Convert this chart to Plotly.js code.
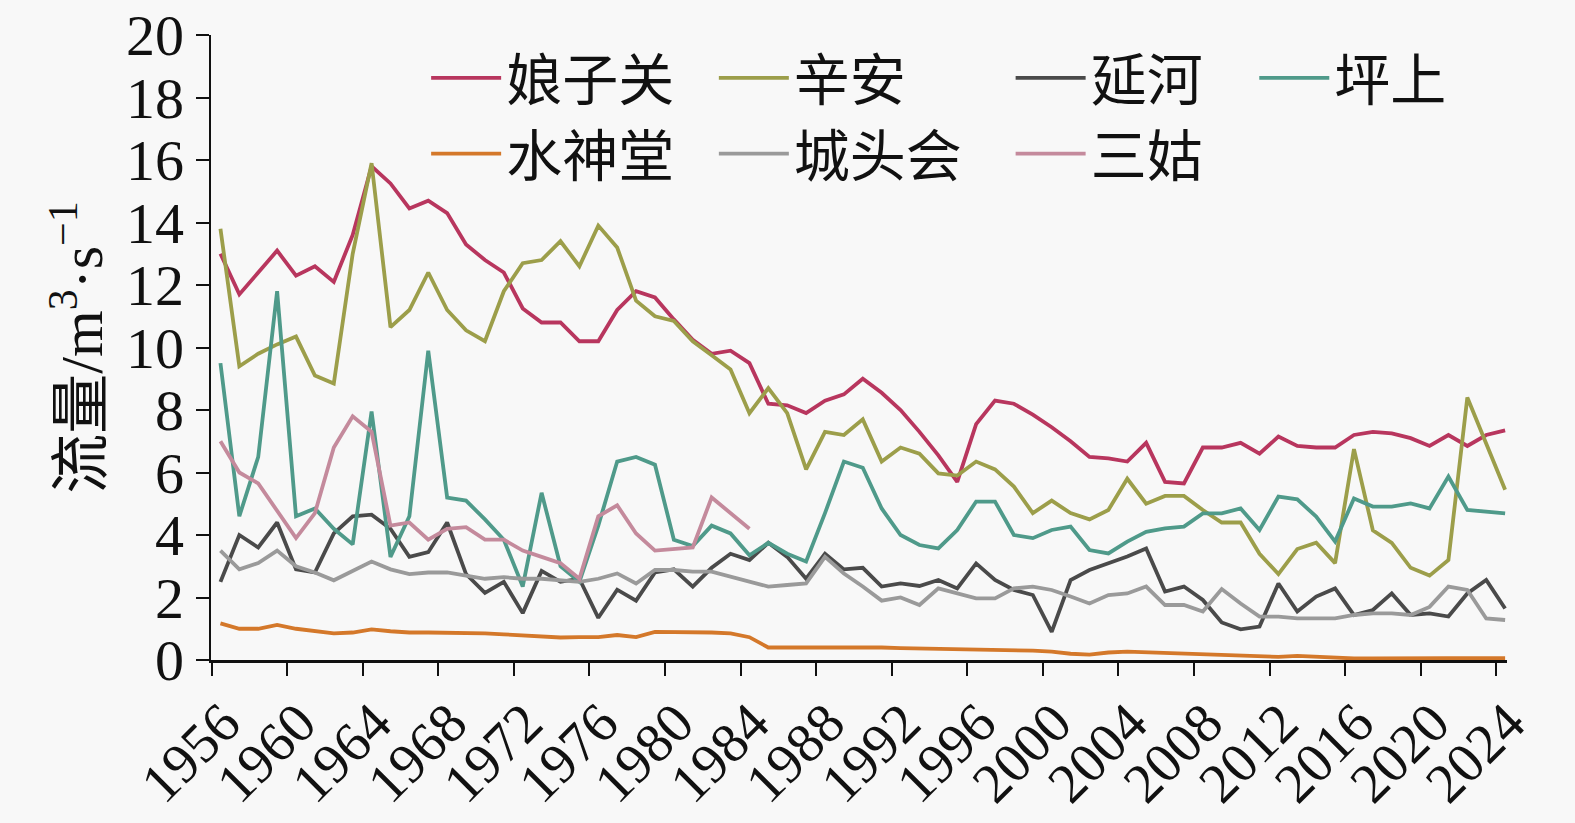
<!DOCTYPE html>
<html>
<head>
<meta charset="utf-8">
<script src="https://cdn.plot.ly/plotly-3.0.1.min.js"></script>
<style>
  body { margin: 0; background: #f8f8f8; }
  #chart { width: 1575px; height: 823px; }
</style>
</head>
<body>
<div id="chart"></div>
<script>
// years 1956-2024
const years = Array.from({ length: 69 }, (_, i) => 1956 + i);
const tickYears = [1956, 1960, 1964, 1968, 1972, 1976, 1980, 1984, 1988, 1992, 1996, 2000, 2004, 2008, 2012, 2016, 2020, 2024];

// 流量 m3/s
const niangziguan = [13.0, 11.7, 12.4, 13.1, 12.3, 12.6, 12.1, 13.6, 15.8, 15.25, 14.45, 14.7, 14.3, 13.3, 12.8, 12.4, 11.25, 10.8, 10.8, 10.2,
  10.2, 11.2, 11.8, 11.6, 10.9, 10.25, 9.8, 9.9, 9.5, 8.2, 8.15, 7.9, 8.3, 8.5, 9.0, 8.55, 8.0, 7.3, 6.55, 5.7,
  7.55, 8.3, 8.2, 7.85, 7.45, 7.0, 6.5, 6.45, 6.35, 6.95, 5.7, 5.65, 6.8, 6.8, 6.95, 6.6, 7.15, 6.85, 6.8, 6.8,
  7.2, 7.3, 7.25, 7.1, 6.85, 7.2, 6.85, 7.2, 7.35];
const xinan = [13.8, 9.4, 9.8, 10.1, 10.35, 9.1, 8.85, 13.0, 15.9, 10.65, 11.2, 12.4, 11.2, 10.55, 10.2, 11.8, 12.7, 12.8, 13.4, 12.6,
  13.9, 13.2, 11.5, 11.0, 10.85, 10.2, 9.75, 9.3, 7.9, 8.7, 7.9, 6.1, 7.3, 7.2, 7.7, 6.35, 6.8, 6.6, 5.97, 5.9,
  6.35, 6.1, 5.55, 4.7, 5.1, 4.7, 4.5, 4.8, 5.8, 5.0, 5.25, 5.25, 4.8, 4.4, 4.4, 3.4, 2.75, 3.55, 3.75, 3.1,
  6.75, 4.15, 3.75, 2.95, 2.7, 3.2, 8.4, 6.9, 5.45];
const yanhe = [2.5, 4.0, 3.6, 4.4, 2.9, 2.8, 4.05, 4.6, 4.65, 4.2, 3.3, 3.45, 4.4, 2.75, 2.15, 2.5, 1.5, 2.85, 2.5, 2.6,
  1.35, 2.25, 1.9, 2.8, 2.9, 2.35, 2.95, 3.4, 3.2, 3.75, 3.3, 2.6, 3.4, 2.9, 2.95, 2.35, 2.45, 2.37, 2.56, 2.29,
  3.09, 2.56, 2.24, 2.08, 0.9, 2.56, 2.88, 3.09, 3.31, 3.57, 2.19, 2.35, 1.92, 1.2, 0.98, 1.07, 2.45, 1.55, 2.03, 2.29,
  1.44, 1.6, 2.13, 1.44, 1.49, 1.39, 2.13, 2.56, 1.65];
const pingshang = [9.5, 4.6, 6.5, 11.8, 4.6, 4.85, 4.2, 3.7, 7.95, 3.3, 4.6, 9.9, 5.2, 5.1, 4.5, 3.85, 2.35, 5.35, 3.0, 2.5,
  4.3, 6.35, 6.5, 6.25, 3.85, 3.65, 4.3, 4.05, 3.35, 3.75, 3.4, 3.15, 4.7, 6.35, 6.15, 4.85, 4.0, 3.68, 3.57, 4.16,
  5.07, 5.07, 4.0, 3.9, 4.16, 4.27, 3.52, 3.41, 3.79, 4.1, 4.21, 4.27, 4.69, 4.69, 4.85, 4.16, 5.23, 5.14, 4.59, 3.79,
  5.17, 4.91, 4.91, 5.01, 4.85, 5.87, 4.8, 4.75, 4.69];
const shuishentang = [1.17, 1.0, 1.0, 1.12, 1.0, 0.92, 0.85, 0.88, 0.98, 0.92, 0.88, 0.88, 0.88, 0.85, 0.85, 0.82, 0.78, 0.74, 0.72, 0.73,
  0.73, 0.8, 0.73, 0.9, 0.9, 0.9, 0.88, 0.85, 0.73, 0.4, 0.4, 0.42, 0.42, 0.42, 0.42, 0.4, 0.38, 0.37, 0.36, 0.35,
  0.36, 0.34, 0.32, 0.3, 0.27, 0.2, 0.17, 0.24, 0.27, 0.25, 0.22, 0.2, 0.17, 0.16, 0.15, 0.13, 0.1, 0.13, 0.1, 0.06,
  0.05, 0.05, 0.06, 0.06, 0.06, 0.06, 0.06, 0.06, 0.06];
const chengtouhui = [3.5, 2.9, 3.1, 3.5, 3.0, 2.8, 2.55, 2.85, 3.15, 2.9, 2.75, 2.8, 2.8, 2.7, 2.6, 2.65, 2.6, 2.6, 2.55, 2.5,
  2.6, 2.77, 2.45, 2.88, 2.88, 2.83, 2.83, 2.67, 2.5, 2.35, 2.4, 2.45, 3.3, 2.77, 2.35, 1.9, 2.0, 1.76, 2.29, 2.13,
  1.97, 1.97, 2.29, 2.35, 2.24, 2.03, 1.81, 2.08, 2.13, 2.35, 1.76, 1.76, 1.55, 2.27, 1.81, 1.39, 1.39, 1.33, 1.33, 1.33,
  1.44, 1.49, 1.49, 1.44, 1.7, 2.35, 2.24, 1.33, 1.28];
// 三姑 ends in 1984
const sangu = [7.0, 6.0, 5.65, 4.8, 3.9, 4.7, 6.8, 7.8, 7.3, 4.3, 4.4, 3.85, 4.2, 4.25, 3.85, 3.85, 3.5, 3.3, 3.1, 2.6,
  4.6, 4.95, 4.05, 3.5, 3.55, 3.6, 5.2, 4.7, 4.2];

const zh = "Liberation Serif, Noto Sans CJK SC, serif";

// one column of the legend per legend object, so the 2-row grid stays put
function serie(nombre, valores, color, leyenda) {
  return {
    x: years.slice(0, valores.length),
    y: valores,
    name: nombre,
    type: "scatter",
    mode: "lines",
    line: { color: color, width: 3.8 },
    legend: leyenda
  };
}

const trazas = [
  serie("娘子关", niangziguan, "#b8365e", "legend"),
  serie("辛安", xinan, "#9c9e4a", "legend2"),
  serie("延河", yanhe, "#4a4a4a", "legend3"),
  serie("坪上", pingshang, "#4f9a8a", "legend4"),
  serie("水神堂", shuishentang, "#d4782a", "legend"),
  serie("城头会", chengtouhui, "#9a9a9a", "legend2"),
  serie("三姑", sangu, "#c48a9c", "legend3")
];

function columna(x) {
  return {
    orientation: "v",
    xanchor: "left",
    yanchor: "top",
    x: x,
    y: 1.0,
    bgcolor: "rgba(0,0,0,0)",
    font: { family: zh, size: 56, color: "#111" },
    itemwidth: 70,
    tracegroupgap: 0
  };
}

const layout = {
  width: 1575,
  height: 823,
  margin: { l: 211, r: 68, t: 35, b: 163 },
  paper_bgcolor: "#f8f8f8",
  plot_bgcolor: "#f8f8f8",
  font: { family: zh, color: "#111" },
  showlegend: true,
  legend: columna(0.166),
  legend2: columna(0.388),
  legend3: columna(0.617),
  legend4: columna(0.805),
  xaxis: {
    range: [1955.5, 2024.1],
    tickmode: "array",
    tickvals: tickYears.map(a => a - 0.47),
    ticktext: tickYears.map(String),
    tickangle: -45,
    ticklabelshift: 12,
    ticklabelstandoff: -8,
    ticks: "outside",
    ticklen: 13,
    tickwidth: 2,
    tickcolor: "#111",
    showline: true,
    linecolor: "#111",
    linewidth: 2.5,
    showgrid: false,
    zeroline: false,
    tickfont: { family: "Liberation Serif, serif", size: 56, color: "#111" }
  },
  yaxis: {
    range: [0, 20],
    dtick: 2,
    ticks: "outside",
    ticklen: 13,
    tickwidth: 2,
    tickcolor: "#111",
    showline: true,
    linecolor: "#111",
    linewidth: 2.5,
    showgrid: false,
    zeroline: false,
    tickfont: { family: "Liberation Serif, serif", size: 58, color: "#111" },
    title: {
      text: "流量/m<sup>3</sup>·s<sup>−1</sup>",
      font: { family: zh, size: 60, color: "#111" },
      standoff: 4
    }
  }
};

Plotly.newPlot("chart", trazas, layout, { staticPlot: true });
</script>
</body>
</html>
